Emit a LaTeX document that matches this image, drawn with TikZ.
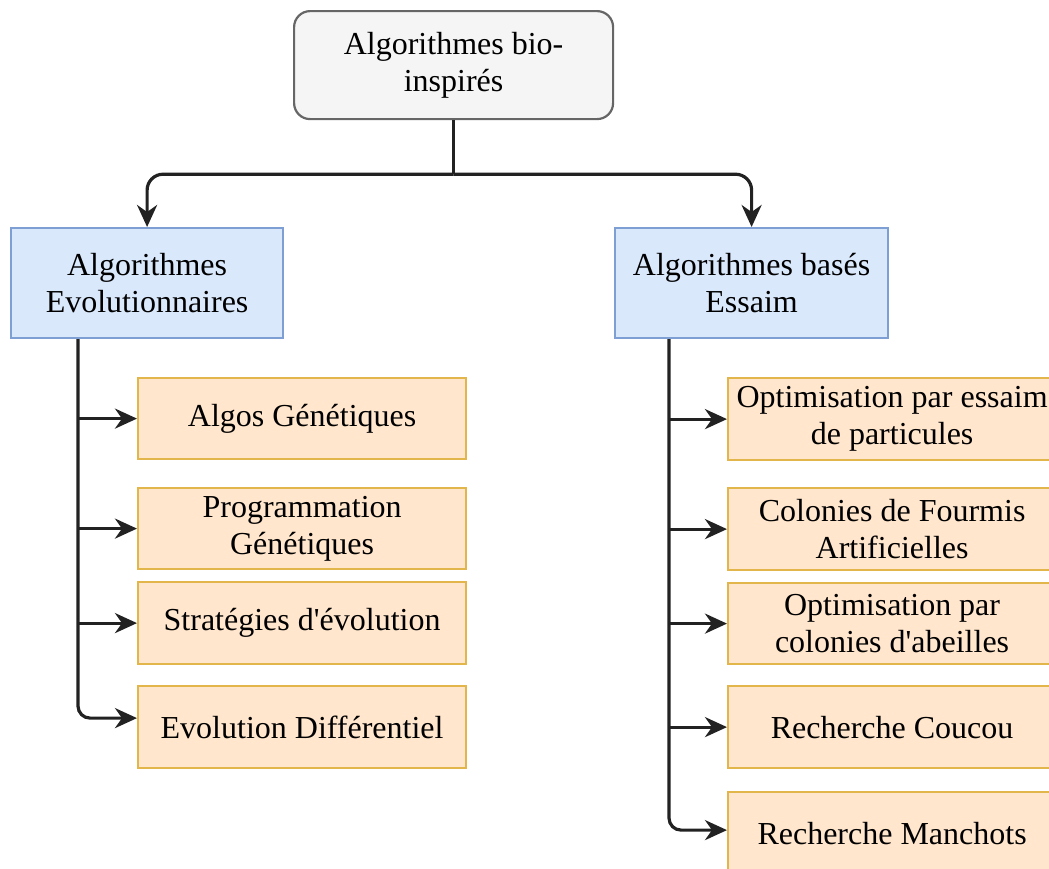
\documentclass[tikz,border=0pt]{standalone}
\usepackage{fontspec}
\setmainfont{Liberation Serif}
\usetikzlibrary{arrows.meta,calc}
\definecolor{rootfill}{HTML}{F5F5F5}
\definecolor{rootline}{HTML}{666666}
\definecolor{catfill}{HTML}{DAE8FC}
\definecolor{catline}{HTML}{7E9FD3}
\definecolor{algfill}{HTML}{FFE6CC}
\definecolor{algline}{HTML}{E2B64A}
\definecolor{wire}{HTML}{222222}
\tikzset{
  box/.style={draw, line width=2.2pt, align=center, font=\fontsize{32}{37}\selectfont,
    inner sep=0pt, anchor=north west},
  rootbox/.style={box, fill=rootfill, draw=rootline, rounded corners=16pt},
  catbox/.style={box, fill=catfill, draw=catline},
  algbox/.style={box, fill=algfill, draw=algline},
  conn/.style={draw=wire, line width=3.2pt,
    -{Stealth[length=22pt, width=20pt, inset=7pt]}},
  wireonly/.style={draw=wire, line width=3.2pt}
}
\begin{document}
\begin{tikzpicture}[x=1pt, y=-1pt]
\useasboundingbox (0,0) rectangle (1049,868);

% root
\node[rootbox, minimum width=319pt, minimum height=108pt] (root) at (293,10)
  {Algorithmes bio-\\inspirés};

% categories
\node[catbox, minimum width=272pt, minimum height=110pt] (evo) at (10,227)
  {Algorithmes\\Evolutionnaires};
\node[catbox, minimum width=273pt, minimum height=110pt] (swarm) at (614,227)
  {Algorithmes basés\\Essaim};

% evolutionary algorithms
\node[algbox, minimum width=328pt, minimum height=81pt] (ga) at (137,377) {Algos Génétiques};
\node[algbox, minimum width=328pt, minimum height=81pt] (gp) at (137,487) {Programmation\\Génétiques};
\node[algbox, minimum width=328pt, minimum height=82pt] (es) at (137,581) {Stratégies d\textquotesingle évolution};
\node[algbox, minimum width=328pt, minimum height=82pt] (de) at (137,685) {Evolution Différentiel};

% swarm algorithms
\node[algbox, minimum width=328pt, minimum height=82pt] (pso) at (727,377) {Optimisation par essaim\\de particules};
\node[algbox, minimum width=328pt, minimum height=82pt] (aco) at (727,487) {Colonies de Fourmis\\Artificielles};
\node[algbox, minimum width=328pt, minimum height=81pt] (abc) at (727,582) {Optimisation par\\colonies d\textquotesingle abeilles};
\node[algbox, minimum width=328pt, minimum height=82pt] (cs) at (727,685) {Recherche Coucou};
\node[algbox, minimum width=328pt, minimum height=82pt] (pen) at (727,791) {Recherche Manchots};

% root to categories
\coordinate (split) at ($(root.south)+(0,54)$);
\draw[wireonly] (root.south) -- (split);
\draw[conn, rounded corners=16pt] (split) -| (evo.north);
\draw[conn, rounded corners=16pt] (split) -| (swarm.north);

% trunk of the evolutionary branch
\coordinate (lx) at ($(evo.south west)+(68,0)$);
\draw[conn, rounded corners=12pt] (lx) |- ($(de.west)+(0,-9)$);
\draw[conn] (lx |- ga.west) -- (ga.west);
\draw[conn] (lx |- gp.west) -- (gp.west);
\draw[conn] (lx |- es.west) -- (es.west);

% trunk of the swarm branch
\coordinate (rx) at ($(swarm.south west)+(55,0)$);
\draw[conn, rounded corners=12pt] (rx) |- ($(pen.west)+(0,-3)$);
\draw[conn] (rx |- pso.west) -- (pso.west);
\draw[conn] (rx |- aco.west) -- (aco.west);
\draw[conn] (rx |- abc.west) -- (abc.west);
\draw[conn] (rx |- cs.west) -- (cs.west);
\end{tikzpicture}
\end{document}
